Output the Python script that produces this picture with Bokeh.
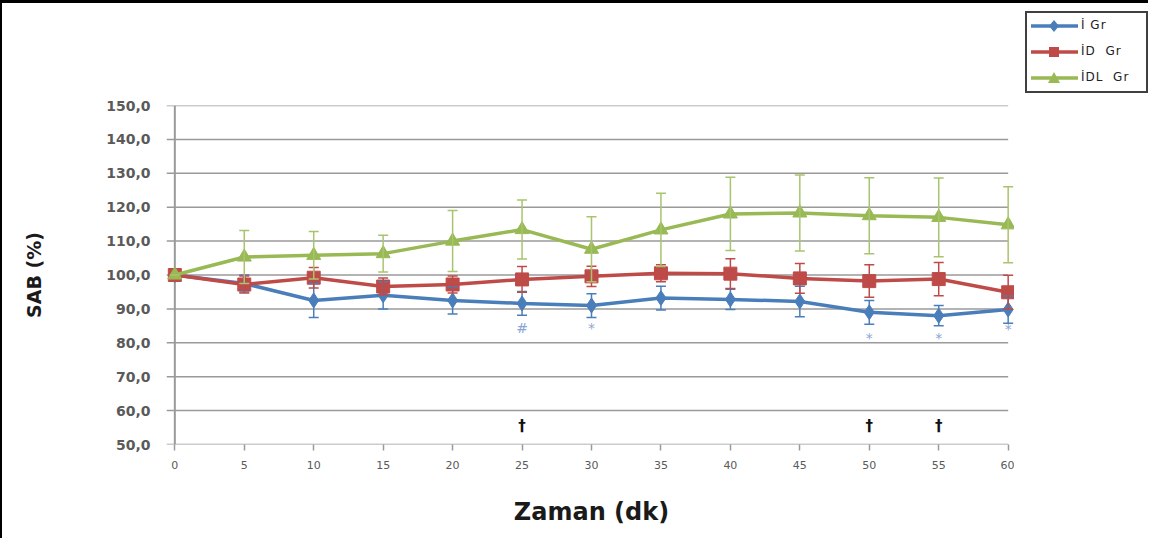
from bokeh.plotting import figure
from bokeh.layouts import row
from bokeh.models import ColumnDataSource, Whisker, TeeHead, FixedTicker, Div
from bokeh.core.properties import value
from bokeh.embed import file_html
from bokeh.resources import INLINE

# ---- data ----
times = [0, 5, 10, 15, 20, 25, 30, 35, 40, 45, 50, 55, 60]
i_gr = [100.0, 97.5, 92.5, 94.0, 92.5, 91.6, 91.0, 93.2, 92.8, 92.2, 89.0, 88.0, 89.8]
i_gr_err = [0.0, 2.5, 5.0, 4.0, 4.0, 3.5, 3.5, 3.5, 3.0, 4.5, 3.5, 3.0, 4.0]
id_gr = [100.0, 97.2, 99.2, 96.6, 97.2, 98.7, 99.6, 100.5, 100.4, 99.0, 98.2, 98.8, 94.9]
id_gr_err = [0.0, 2.5, 3.0, 2.5, 2.5, 3.8, 3.0, 2.5, 4.4, 4.4, 4.8, 4.9, 5.0]
idl_gr = [100.0, 105.3, 105.8, 106.3, 110.0, 113.4, 107.6, 113.3, 118.0, 118.3, 117.5, 117.0, 114.8]
idl_gr_err = [0.0, 7.8, 7.0, 5.4, 9.0, 8.7, 9.6, 10.8, 10.8, 11.2, 11.2, 11.6, 11.2]

series_names = ["İ Gr", "İD  Gr", "İDL  Gr"]

sig_x = [25, 30, 50, 55, 60]
sig_y = [84.3, 84.3, 81.3, 81.3, 84.0]
sig_txt = ["#", "*", "*", "*", "*"]

dag_x = [25, 50, 55]
dag_y = [55.6, 55.6, 55.6]
dag_txt = ["†", "†", "†"]

y_ticks = [50, 60, 70, 80, 90, 100, 110, 120, 130, 140, 150]
x_ticks = times

X_MIN, X_MAX = -0.6, 60.6
Y_MIN, Y_MAX = 50, 150

p = figure(width=1014, height=538, output_backend="svg", toolbar_location=None,
           x_range=(X_MIN, X_MAX), y_range=(Y_MIN, Y_MAX),
           min_border_left=164, min_border_right=0, min_border_top=102, min_border_bottom=97)
p.styles = {"border-top": "3px solid black", "border-left": "2px solid black"}
p.outline_line_color = None
p.xgrid.grid_line_color = None
p.ygrid.grid_line_color = None

# grid lines (span 0..60 like the original)
p.segment(x0=[X_MIN] * len(y_ticks), x1=[max(times)] * len(y_ticks), y0=y_ticks, y1=y_ticks,
          line_color="#9a9a9a", line_width=1.5)
p.segment(x0=[0], x1=[0], y0=[Y_MIN], y1=[Y_MAX], line_color="#9a9a9a", line_width=2)

# axes
p.yaxis.ticker = FixedTicker(ticks=y_ticks)
p.yaxis.major_label_overrides = {t: f"{t:.1f}".replace(".", ",") for t in y_ticks}
p.yaxis.axis_line_color = None
p.yaxis.major_tick_line_color = None
p.yaxis.minor_tick_line_color = None
p.yaxis.major_label_standoff = 10
p.yaxis.major_label_text_font = "DejaVu Sans"
p.yaxis.major_label_text_font_size = "14px"
p.yaxis.major_label_text_font_style = "bold"
p.yaxis.major_label_text_color = "#5a5a5a"
p.yaxis.axis_label = "SAB (%)"
p.yaxis.axis_label_text_font = "DejaVu Sans"
p.yaxis.axis_label_text_font_size = "19px"
p.yaxis.axis_label_text_font_style = "bold"
p.yaxis.axis_label_text_color = "#1a1a1a"
p.yaxis.axis_label_standoff = 58

p.xaxis.ticker = FixedTicker(ticks=x_ticks)
p.xaxis.axis_line_color = None
p.xaxis.major_tick_line_color = "#9a9a9a"
p.xaxis.major_tick_line_width = 1.5
p.xaxis.major_tick_in = 0
p.xaxis.major_tick_out = 6
p.xaxis.minor_tick_line_color = None
p.xaxis.major_label_standoff = 10
p.xaxis.major_label_text_font = "DejaVu Sans"
p.xaxis.major_label_text_font_size = "11px"
p.xaxis.major_label_text_color = "#5a5a5a"
p.xaxis.axis_label = "Zaman (dk)"
p.xaxis.axis_label_text_font = "DejaVu Sans"
p.xaxis.axis_label_text_font_size = "24px"
p.xaxis.axis_label_text_font_style = "bold"
p.xaxis.axis_label_text_color = "#1a1a1a"
p.xaxis.axis_label_standoff = 26

colors = ["#4A7EBB", "#BE4B48", "#98B954"]
err_colors = ["#4A7EBB", "#BE4B48", "#A9C46E"]
vals = [i_gr, id_gr, idl_gr]
errs = [i_gr_err, id_gr_err, idl_gr_err]
markers = ["diamond", "square", "triangle"]
msizes = [15, 13, 14]

for name, v, e, c, ec, m, ms in zip(series_names, vals, errs, colors, err_colors, markers, msizes):
    src = ColumnDataSource(dict(x=times, y=v,
                                upper=[a + b for a, b in zip(v, e)],
                                lower=[a - b for a, b in zip(v, e)]))
    w = Whisker(source=src, base="x", upper="upper", lower="lower",
                line_color=ec, line_width=1.5, level="glyph",
                upper_head=TeeHead(size=10, line_color=ec, line_width=1.5),
                lower_head=TeeHead(size=10, line_color=ec, line_width=1.5))
    p.add_layout(w)
    p.line("x", "y", source=src, line_color=c, line_width=3.5)
    p.scatter("x", "y", source=src, marker=m, size=ms, fill_color=c, line_color=c)

# significance marks
p.text(x=sig_x, y=sig_y, text=sig_txt, text_color="#8AA6D6", text_font=value("DejaVu Sans"),
       text_font_size="14px", text_align="center", text_baseline="middle")
p.text(x=dag_x, y=dag_y, text=dag_txt, text_color="#111111", text_font=value("DejaVu Sans"),
       text_font_size="15px", text_font_style="bold", text_align="center", text_baseline="middle")

# ---- legend (right strip of the chart, outside the plot area) ----
marker_svg = {
    "diamond": '<polygon points="23,3 28,9 23,15 18,9" fill="{c}"/>',
    "square": '<rect x="18" y="4" width="10" height="10" fill="{c}"/>',
    "triangle": '<polygon points="23,3 29,14 17,14" fill="{c}"/>',
}
rows_html = ""
for name, c, m in zip(series_names, colors, markers):
    rows_html += (
        '<div style="display:flex;align-items:center;height:26px;">'
        '<svg width="47" height="18" style="flex:none">'
        f'<line x1="0" y1="9" x2="47" y2="9" stroke="{c}" stroke-width="3.5"/>'
        + marker_svg[m].format(c=c) +
        '</svg>'
        f'<span style="margin-left:3px;white-space:pre;letter-spacing:1px;">{name}</span>'
        '</div>'
    )
legend_html = (
    '<div style="margin:8px 0 0 11px;width:123px;box-sizing:border-box;'
    'border:2px solid #404040;background:white;padding:0 0 0 4px;'
    "font-family:'DejaVu Sans';font-size:12px;color:#222222;\">"
    + rows_html + '</div>'
)
legend_div = Div(text=legend_html, width=134, height=538, margin=0,
                 styles={"border-top": "3px solid black"})

open("out.html", "w", encoding="utf-8").write(file_html(row(p, legend_div), INLINE))
